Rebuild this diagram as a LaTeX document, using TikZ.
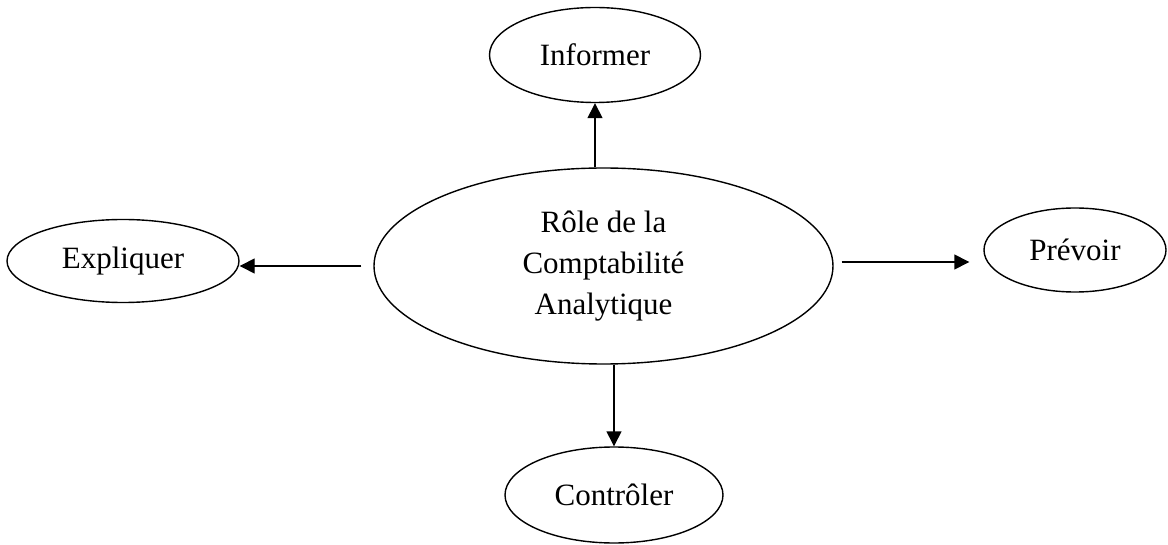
\documentclass[tikz,border=0pt]{standalone}
\usepackage{fontspec}
\setmainfont{Liberation Serif}
\usetikzlibrary{shapes.geometric,arrows.meta}
\begin{document}
\begin{tikzpicture}[x=1pt,y=-1pt,
  oval/.style={draw,ellipse,line width=1.4pt,inner sep=0pt,font=\fontsize{31}{41}\selectfont,align=center},
  arr/.style={line width=1.4pt,-{Triangle[length=15pt,width=15pt]}}]
\useasboundingbox (0,0) rectangle (1168,545);
\node[oval,minimum width=459pt,minimum height=196pt] (main) at (603.5,266) {Rôle de la\\Comptabilité\\Analytique};
\node[oval,minimum width=211pt,minimum height=95pt] (inf) at (595,55) {Informer};
\node[oval,minimum width=232pt,minimum height=83pt] (expl) at (123,261) {Expliquer};
\node[oval,minimum width=182pt,minimum height=84pt] (prev) at (1075,250) {Prévoir};
\node[oval,minimum width=218pt,minimum height=96pt] (cont) at (614,495) {Contrôler};
\coordinate (pstart) at ([shift={(8pt,4pt)}]main.east);
\draw[arr] (main.north -| inf.south) -- (inf.south);
\draw[arr] ([xshift=-12pt]main.west) -- (main.west -| expl.east);
\draw[arr] (pstart) -- ([xshift=-14pt]prev.west |- pstart);
\draw[arr] (main.south -| cont.north) -- (cont.north);
\end{tikzpicture}
\end{document}
